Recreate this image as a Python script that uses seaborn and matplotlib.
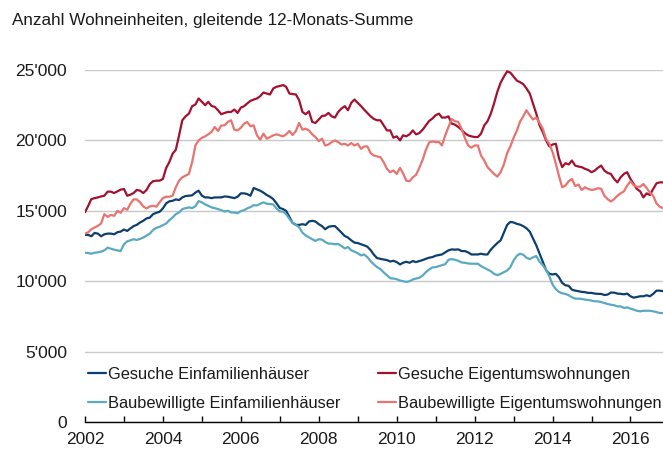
import matplotlib
matplotlib.use('Agg')

import matplotlib.dates as mdates
import pandas as pd
import seaborn as sns
from matplotlib import pyplot as plt
from matplotlib.ticker import FuncFormatter


# monthly values, Jan 2002 - Nov 2016 (gleitende 12-Monats-Summe)
months = pd.date_range('2002-01-01', periods=179, freq='MS')

gesuche_efh = [
    13290, 13290, 13190, 13430, 13380, 13190, 13330, 13380, 13380, 13330, 13480, 13520,
    13670, 13570, 13740, 13910, 14000, 14170, 14290, 14460, 14520, 14760, 14860, 14930,
    15170, 15530, 15670, 15710, 15810, 15760, 15950, 16050, 16070, 16100, 16290, 16430,
    16070, 15950, 15950, 15900, 15950, 15950, 15950, 16020, 16000, 15950, 15900, 16000,
    16240, 16240, 16190, 16070, 16620, 16520, 16430, 16290, 16120, 16000, 15830, 15530,
    15200, 15120, 15000, 14570, 14140, 14000, 14000, 14050, 14000, 14240, 14290, 14240,
    14050, 13910, 13690, 13860, 13910, 13910, 13690, 13450, 13210, 13100, 12900, 12740,
    12710, 12620, 12550, 12450, 12210, 11880, 11640, 11590, 11540, 11500, 11400, 11450,
    11360, 11190, 11310, 11380, 11310, 11430, 11360, 11430, 11500, 11590, 11670, 11710,
    11810, 11860, 11900, 12050, 12190, 12260, 12240, 12260, 12140, 12140, 12050, 11900,
    11900, 11900, 11950, 11900, 11900, 12240, 12480, 12710, 12900, 13450, 14000, 14210,
    14170, 14070, 14020, 13910, 13760, 13520, 13050, 12550, 11950, 11380, 10790, 10520,
    10480, 10520, 10290, 9880, 9710, 9670, 9400, 9330, 9290, 9240, 9220, 9170,
    9170, 9120, 9100, 9100, 9020, 9050, 9190, 9190, 9120, 9100, 9070, 9120,
    8930, 8830, 8880, 8930, 8930, 9000, 8930, 9100, 9330, 9330, 9290,
]

gesuche_ewg = [
    14900, 15360, 15830, 15900, 15950, 16020, 16070, 16360, 16360, 16260, 16380, 16500,
    16550, 16070, 16140, 16260, 16480, 16430, 16260, 16480, 16900, 17100, 17140, 17140,
    17260, 18050, 18450, 19050, 19330, 20360, 21430, 21710, 21900, 22430, 22550, 22980,
    22740, 22500, 22740, 22450, 22380, 22140, 21860, 21950, 22020, 22020, 22190, 21950,
    22330, 22430, 22620, 22810, 22900, 22980, 23140, 23400, 23330, 23260, 23690, 23810,
    23860, 23930, 23810, 23330, 23290, 23260, 22860, 22020, 21860, 22070, 21310, 21240,
    21480, 21740, 21760, 21950, 21710, 21620, 22020, 22260, 22430, 22140, 22670, 22900,
    22670, 22430, 22190, 21950, 21710, 21520, 21430, 21430, 21070, 20710, 20710, 20190,
    20290, 20000, 20360, 20290, 20430, 20710, 20430, 20520, 20760, 21070, 21380, 21550,
    21790, 21900, 21620, 21620, 21710, 21190, 21120, 20950, 20760, 20520, 20360, 20290,
    20240, 20240, 20480, 21070, 21360, 21900, 22620, 23450, 24100, 24520, 24900, 24810,
    24520, 24240, 24140, 24000, 23690, 23330, 22620, 21900, 21070, 20590, 20000, 19570,
    19710, 19760, 18760, 18100, 18380, 18290, 18570, 18210, 18140, 18100, 17980, 17900,
    17740, 17860, 18050, 18210, 17860, 17690, 17620, 17260, 17020, 17380, 17620, 17740,
    17260, 16900, 16550, 16380, 15950, 16240, 16120, 16550, 16950, 17020, 17020,
]

baubew_efh = [
    12020, 12000, 11950, 12020, 12050, 12100, 12190, 12380, 12310, 12240, 12190, 12140,
    12620, 12830, 12900, 12980, 12930, 13000, 13100, 13240, 13380, 13640, 13790, 13860,
    13980, 14100, 14330, 14520, 14760, 14880, 15120, 15190, 15240, 15190, 15330, 15690,
    15600, 15450, 15360, 15240, 15190, 15120, 15050, 14950, 15000, 14880, 14880, 14830,
    14980, 15050, 15170, 15260, 15400, 15380, 15500, 15600, 15500, 15480, 15450, 15170,
    14950, 14950, 14760, 14430, 14140, 14000, 13830, 13450, 13240, 13120, 12980, 12860,
    12980, 12950, 12790, 12670, 12670, 12620, 12640, 12500, 12330, 12430, 12190, 12100,
    11980, 11830, 11900, 11710, 11430, 11190, 11000, 10860, 10620, 10430, 10210, 10190,
    10140, 10050, 10000, 9950, 10000, 10120, 10190, 10240, 10400, 10640, 10830, 10980,
    11000, 11070, 11140, 11210, 11520, 11570, 11520, 11450, 11330, 11310, 11260, 11240,
    11240, 11240, 11070, 10950, 10830, 10710, 10520, 10430, 10520, 10640, 10760, 11000,
    11480, 11810, 11950, 11880, 11670, 11570, 11690, 11790, 11380, 11140, 10810, 10360,
    9760, 9430, 9240, 9140, 9100, 9000, 8860, 8760, 8760, 8740, 8690, 8670,
    8620, 8570, 8570, 8520, 8450, 8380, 8330, 8290, 8210, 8210, 8100, 8140,
    8050, 7980, 7900, 7860, 7900, 7900, 7900, 7860, 7810, 7740, 7740,
]

baubew_ewg = [
    13380, 13480, 13690, 13810, 13930, 14100, 14760, 14570, 14710, 14640, 15000, 14860,
    15190, 15070, 15480, 15810, 15810, 15600, 15310, 15170, 15310, 15360, 15290, 15600,
    15900, 16000, 16000, 16070, 16670, 17140, 17380, 17500, 17620, 18450, 19640, 20000,
    20190, 20290, 20430, 20600, 20950, 20670, 21050, 21070, 21310, 21430, 20760, 20710,
    20900, 21190, 21310, 21000, 21070, 20360, 20050, 20480, 20120, 20240, 20360, 20430,
    20360, 20290, 20430, 20670, 20380, 20670, 21240, 20760, 20830, 20710, 20430, 20240,
    19950, 20120, 19640, 19710, 19880, 20000, 19880, 19710, 19760, 19640, 19810, 19640,
    19760, 19400, 19570, 19570, 19100, 18930, 18860, 18810, 18450, 17980, 17740, 17860,
    17620, 18050, 17670, 17140, 17100, 17380, 17550, 18050, 18620, 19330, 19860, 19930,
    19880, 19880, 19640, 20360, 20950, 21520, 21360, 21310, 20830, 20190, 19640, 19480,
    19640, 19640, 18930, 18570, 18100, 17860, 17620, 17430, 17740, 18290, 19100, 19570,
    20190, 20710, 21310, 21710, 22140, 21790, 21480, 21620, 21240, 20830, 20100, 19760,
    19170, 18330, 17500, 16670, 16790, 17100, 17260, 16760, 16860, 16480, 16670, 16550,
    16480, 16520, 16600, 16570, 16070, 15830, 15660, 15830, 16070, 16240, 16380, 16790,
    17100, 16810, 16710, 16710, 16900, 16620, 16290, 16070, 15520, 15290, 15190,
]

series_names = [
    'Gesuche Einfamilienhäuser',
    'Baubewilligte Einfamilienhäuser',
    'Gesuche Eigentumswohnungen',
    'Baubewilligte Eigentumswohnungen',
]
series_colors = ['#0d3f6e', '#5aa9c2', '#a3112f', '#e8736f']

df = pd.DataFrame({
    'Datum': months,
    series_names[0]: gesuche_efh,
    series_names[1]: baubew_efh,
    series_names[2]: gesuche_ewg,
    series_names[3]: baubew_ewg,
}).melt(id_vars='Datum', var_name='Serie', value_name='Anzahl')

sns.set_theme(style='white')
plt.rcParams['font.family'] = ['Liberation Sans', 'DejaVu Sans']
text_color = '#1a1a1a'

fig = plt.figure(figsize=(6.63, 4.5), dpi=100)
ax = fig.add_axes([85 / 663, 28 / 450, 578 / 663, 352 / 450])

sns.lineplot(data=df, x='Datum', y='Anzahl', hue='Serie', hue_order=series_names,
             palette=dict(zip(series_names, series_colors)), linewidth=1.6, ax=ax)

ax.set_xlim(months[0], months[-1])
ax.set_ylim(0, 25000)
ax.set_yticks(range(0, 25001, 5000))
ax.yaxis.set_major_formatter(FuncFormatter(lambda v, _: f"{int(v):,}".replace(',', "'")))
ax.yaxis.grid(True, color='#c8c8c8', linewidth=1)
ax.set_axisbelow(True)

ax.xaxis.set_major_locator(mdates.YearLocator(2))
ax.xaxis.set_minor_locator(mdates.YearLocator(1))
ax.xaxis.set_major_formatter(mdates.DateFormatter('%Y'))

for side in ['top', 'right', 'left']:
    ax.spines[side].set_visible(False)
ax.spines['bottom'].set_color('black')
ax.spines['bottom'].set_linewidth(1)

ax.tick_params(axis='x', which='both', bottom=True, direction='in', length=4,
               width=1, color='black', pad=7, labelsize=12.5, labelcolor=text_color)
ax.tick_params(axis='y', length=0, pad=13, labelsize=12.5, labelcolor=text_color)
ax.set_xlabel('')
ax.set_ylabel('')

ax.legend(ncol=2, loc='lower left', bbox_to_anchor=(88 / 663, 39 / 450),
          bbox_transform=fig.transFigure, frameon=False, fontsize=11.8,
          handlelength=1.1, handletextpad=0.12, columnspacing=2.3,
          labelspacing=0.85, borderpad=0, borderaxespad=0, labelcolor=text_color)

fig.text(12 / 663, 1 - 21 / 450, 'Anzahl Wohneinheiten, gleitende 12-Monats-Summe',
         fontsize=12.3, color=text_color, va='center', ha='left')

fig.savefig('out.png', dpi=100)
